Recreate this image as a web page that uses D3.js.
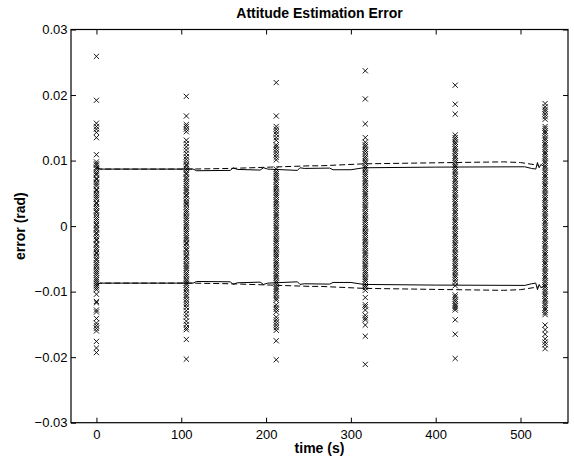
<!DOCTYPE html>
<html>
<head>
<meta charset="utf-8">
<script src="https://cdn.jsdelivr.net/npm/d3@7/dist/d3.min.js"></script>
<style>
  html, body { margin: 0; padding: 0; background: #fff; }
  svg { display: block; }
  text { font-family: "Liberation Sans", Arial, Helvetica, sans-serif; fill: #000; }
</style>
</head>
<body>
<div id="chart"></div>
<script>
// ---------- DATA ----------
const titleText = "Attitude Estimation Error";
const xLabelText = "time (s)";
const yLabelText = "error (rad)";

const xTicks = [0, 100, 200, 300, 400, 500];
const xTickLabels = ["0", "100", "200", "300", "400", "500"];
const yTicks = [0.03, 0.02, 0.01, 0, -0.01, -0.02, -0.03];
const yTickLabels = ["0.03", "0.02", "0.01", "0", "\u22120.01", "\u22120.02", "\u22120.03"];

// measurement times (s) of each column of error samples
const sampleTimes = [0, 106, 212, 317, 423, 529];

// error samples (rad) for each measurement time
const samples0 = [0.0259, 0.0192, 0.0157, 0.0152, 0.0148, 0.0143, 0.0135, 0.0109,
  0.0098, 0.0095, 0.0093, 0.0089, 0.0087, 0.0083, 0.0080, 0.0078, 0.0073, 0.0071, 0.0067, 0.0064,
  0.0061, 0.0056, 0.0054, 0.0050, 0.0047, 0.0044, 0.0041, 0.0036, 0.0034, 0.0030, 0.0027, 0.0023,
  0.0021, 0.0017, 0.0013, 0.0010, 0.0007, 0.0003, 0.0001, -0.0003, -0.0006, -0.0010, -0.0012,
  -0.0016, -0.0020, -0.0022, -0.0027, -0.0029, -0.0033, -0.0036, -0.0040, -0.0042, -0.0046,
  -0.0050, -0.0052, -0.0056, -0.0059, -0.0062, -0.0066, -0.0069, -0.0072, -0.0075, -0.0079,
  -0.0082, -0.0085, -0.0088, -0.0091, -0.0094, -0.0097,
  -0.0104, -0.0115, -0.0117, -0.0128, -0.0131, -0.0141, -0.0148, -0.0152, -0.0156, -0.0160,
  -0.0176, -0.0186, -0.0193];
const samples1 = [0.0198, 0.0168, 0.0155, 0.0152, 0.0148, 0.0144, 0.0131, 0.0126, 0.0121, 0.0116,
  0.0111, 0.0106, 0.0102, 0.0098, 0.0094, 0.0092, 0.0088, 0.0085, 0.0081, 0.0079, 0.0075, 0.0072,
  0.0068, 0.0065, 0.0062, 0.0058, 0.0055, 0.0052, 0.0048, 0.0046, 0.0042, 0.0038, 0.0035, 0.0033,
  0.0029, 0.0025, 0.0022, 0.0019, 0.0015, 0.0012, 0.0009, 0.0005, 0.0002, -0.0001, -0.0005,
  -0.0008, -0.0011, -0.0015, -0.0018, -0.0021, -0.0025, -0.0027, -0.0031, -0.0035, -0.0037,
  -0.0041, -0.0045, -0.0047, -0.0051, -0.0054, -0.0058, -0.0061, -0.0064, -0.0067, -0.0071,
  -0.0074, -0.0077, -0.0081, -0.0084, -0.0087, -0.0090, -0.0094, -0.0097, -0.0101, -0.0105,
  -0.0108, -0.0112, -0.0116, -0.0120, -0.0124, -0.0129, -0.0134, -0.0139, -0.0145, -0.0150,
  -0.0155, -0.0158, -0.0173, -0.0203];
const samples2 = [0.0219, 0.0168, 0.0152, 0.0148, 0.0144, 0.0140, 0.0135, 0.0131, 0.0124, 0.0121,
  0.0117, 0.0113, 0.0109, 0.0105, 0.0101, 0.0087, 0.0083, 0.0080, 0.0077, 0.0074, 0.0070, 0.0067,
  0.0063, 0.0060, 0.0057, 0.0053, 0.0050, 0.0047, 0.0044, 0.0040, 0.0037, 0.0034, 0.0030, 0.0027,
  0.0024, 0.0020, 0.0017, 0.0014, 0.0010, 0.0007, 0.0004, 0.0000, -0.0003, -0.0006, -0.0010,
  -0.0013, -0.0016, -0.0020, -0.0023, -0.0026, -0.0030, -0.0033, -0.0036, -0.0040, -0.0043,
  -0.0046, -0.0049, -0.0053, -0.0056, -0.0059, -0.0063, -0.0066, -0.0069, -0.0073, -0.0076,
  -0.0079, -0.0083, -0.0086, -0.0089, -0.0093, -0.0096, -0.0099, -0.0103, -0.0106, -0.0110,
  -0.0113, -0.0120, -0.0124, -0.0127, -0.0131, -0.0139, -0.0143, -0.0147, -0.0151, -0.0155,
  -0.0159, -0.0175, -0.0204];
const samples3 = [0.0237, 0.0194, 0.0156, 0.0135, 0.0128, 0.0124, 0.0121, 0.0117, 0.0114, 0.0110,
  0.0106, 0.0103, 0.0099, 0.0096, 0.0092, 0.0089, 0.0086, 0.0082, 0.0079, 0.0076, 0.0072, 0.0069,
  0.0066, 0.0062, 0.0059, 0.0056, 0.0052, 0.0049, 0.0046, 0.0042, 0.0039, 0.0036, 0.0032, 0.0029,
  0.0026, 0.0022, 0.0019, 0.0016, 0.0012, 0.0009, 0.0006, 0.0002, -0.0001, -0.0004, -0.0008,
  -0.0011, -0.0014, -0.0018, -0.0021, -0.0024, -0.0028, -0.0031, -0.0034, -0.0038, -0.0041,
  -0.0044, -0.0048, -0.0051, -0.0054, -0.0058, -0.0061, -0.0064, -0.0068, -0.0071, -0.0074,
  -0.0078, -0.0081, -0.0084, -0.0088, -0.0091, -0.0094, -0.0098,
  -0.0109, -0.0120, -0.0123, -0.0128, -0.0136, -0.0140, -0.0143, -0.0151, -0.0168, -0.0211];
const samples4 = [0.0215, 0.0186, 0.0171, 0.0139, 0.0135, 0.0132, 0.0128, 0.0125, 0.0121, 0.0118,
  0.0114, 0.0111, 0.0107, 0.0104, 0.0100, 0.0097, 0.0093, 0.0090, 0.0086, 0.0083, 0.0079, 0.0076,
  0.0072, 0.0069, 0.0065, 0.0062, 0.0058, 0.0055, 0.0051, 0.0048, 0.0044, 0.0041, 0.0037, 0.0034,
  0.0030, 0.0027, 0.0023, 0.0020, 0.0016, 0.0013, 0.0009, 0.0006, 0.0002, -0.0001, -0.0005,
  -0.0008, -0.0012, -0.0015, -0.0019, -0.0022, -0.0026, -0.0029, -0.0033, -0.0036, -0.0040,
  -0.0043, -0.0047, -0.0050, -0.0054, -0.0057, -0.0061, -0.0064, -0.0068, -0.0071, -0.0075,
  -0.0078, -0.0082, -0.0086, -0.0091, -0.0105, -0.0108, -0.0112, -0.0115, -0.0119, -0.0122,
  -0.0125, -0.0128, -0.0143, -0.0165, -0.0202];
const samples5 = [0.0187, 0.0182, 0.0178, 0.0175, 0.0171, 0.0167, 0.0163, 0.0152, 0.0149, 0.0145,
  0.0142, 0.0138, 0.0134, 0.0131, 0.0127, 0.0124, 0.0120, 0.0117, 0.0113, 0.0110, 0.0106, 0.0103,
  0.0099, 0.0096, 0.0092, 0.0089, 0.0085, 0.0082, 0.0078, 0.0075, 0.0071, 0.0068, 0.0064, 0.0061,
  0.0057, 0.0054, 0.0050, 0.0047, 0.0043, 0.0040, 0.0036, 0.0033, 0.0029, 0.0026, 0.0022, 0.0019,
  0.0015, 0.0012, 0.0008, 0.0005, 0.0001, -0.0002, -0.0006, -0.0009, -0.0013, -0.0016, -0.0020,
  -0.0023, -0.0027, -0.0030, -0.0034, -0.0037, -0.0041, -0.0044, -0.0048, -0.0051, -0.0055,
  -0.0058, -0.0062, -0.0065, -0.0069, -0.0072, -0.0076, -0.0079, -0.0083, -0.0086, -0.0090,
  -0.0093, -0.0097, -0.0100, -0.0104, -0.0107, -0.0111, -0.0114, -0.0118, -0.0121, -0.0125,
  -0.0128, -0.0132, -0.0135, -0.0151, -0.0158, -0.0165, -0.0172, -0.0177, -0.0181, -0.0187];
const sampleColumns = [samples0, samples1, samples2, samples3, samples4, samples5];

// estimated 3-sigma bound (solid) : time (s) and value (rad); lower bound is its negative
const boundTime = [0, 4, 114, 118, 158, 161, 166, 193, 197, 202, 237, 240, 245, 275, 279, 300,
  315, 400, 505, 513, 518, 520, 522, 524, 528];
const boundSolid = [0.0091, 0.0087, 0.0087, 0.00845, 0.0085, 0.0089, 0.00865, 0.00855, 0.0089,
  0.0087, 0.0085, 0.0089, 0.0088, 0.00885, 0.0086, 0.0086, 0.0089, 0.0090, 0.00905, 0.0088,
  0.0087, 0.0097, 0.0089, 0.0094, 0.0091];
// theoretical 3-sigma bound (dashed)
const dashTime = [0, 5, 110, 158, 205, 252, 264, 315, 421, 480, 500, 515, 521];
const boundDashed = [0.0089, 0.0087, 0.0087, 0.0088, 0.0090, 0.0092, 0.0092, 0.0095, 0.0097,
  0.0098, 0.0097, 0.0094, 0.0093];

// ---------- LAYOUT ----------
const W = 574, H = 466;
const plot = { left: 71, right: 568, top: 29.5, bottom: 422.7 };

const svg = d3.select("#chart").append("svg")
  .attr("width", W).attr("height", H);

const x = d3.scaleLinear().domain([-30, 556]).range([plot.left, plot.right]);
const y = d3.scaleLinear().domain([-0.03, 0.03]).range([plot.bottom, plot.top]);

const tickLen = 5;

svg.append("clipPath").attr("id", "clip").append("rect")
  .attr("x", plot.left).attr("y", plot.top)
  .attr("width", plot.right - plot.left).attr("height", plot.bottom - plot.top);

const g = svg.append("g").attr("clip-path", "url(#clip)");

// sample markers (x)
const ms = 2.6;
sampleColumns.forEach((col, i) => {
  const t = sampleTimes[i];
  g.append("g").selectAll("path").data(col).enter().append("path")
    .attr("d", d => {
      const cx = x(t), cy = y(d);
      return `M${cx - ms},${cy - ms}L${cx + ms},${cy + ms}M${cx - ms},${cy + ms}L${cx + ms},${cy - ms}`;
    })
    .attr("stroke", "#000").attr("stroke-width", 0.9).attr("fill", "none");
});

// bounds
const solidPts = boundTime.map((t, i) => [t, boundSolid[i]]);
const dashPts = dashTime.map((t, i) => [t, boundDashed[i]]);
const line = d3.line().x(d => x(d[0])).y(d => y(d[1]));

[1, -1].forEach(sign => {
  g.append("path").datum(solidPts.map(p => [p[0], sign * p[1]]))
    .attr("d", line).attr("fill", "none").attr("stroke", "#000").attr("stroke-width", 1);
  g.append("path").datum(dashPts.map(p => [p[0], sign * p[1]]))
    .attr("d", line).attr("fill", "none").attr("stroke", "#000").attr("stroke-width", 1)
    .attr("stroke-dasharray", "6,3");
});

// axes box
svg.append("rect")
  .attr("x", plot.left).attr("y", plot.top)
  .attr("width", plot.right - plot.left).attr("height", plot.bottom - plot.top)
  .attr("fill", "none").attr("stroke", "#000").attr("stroke-width", 1.2);

// axes (inward ticks on all four sides)
const xAxisB = d3.axisBottom(x).tickValues(xTicks).tickSize(-tickLen).tickPadding(7.5)
  .tickFormat((d, i) => xTickLabels[i]);
const xAxisT = d3.axisTop(x).tickValues(xTicks).tickSize(-tickLen).tickFormat("");
const yAxisL = d3.axisLeft(y).tickValues(yTicks).tickSize(-tickLen).tickPadding(3.5)
  .tickFormat((d, i) => yTickLabels[i]);
const yAxisR = d3.axisRight(y).tickValues(yTicks).tickSize(-tickLen).tickFormat("");

function styleAxis(sel) {
  sel.select(".domain").remove();
  sel.selectAll(".tick line").attr("stroke", "#000").attr("stroke-width", 1);
  sel.selectAll(".tick text").attr("font-size", 13)
    .attr("font-family", '"Liberation Sans", Arial, sans-serif').attr("fill", "#000");
}
svg.append("g").attr("transform", `translate(0,${plot.bottom})`).call(xAxisB).call(styleAxis);
svg.append("g").attr("transform", `translate(0,${plot.top})`).call(xAxisT).call(styleAxis);
svg.append("g").attr("transform", `translate(${plot.left},0)`).call(yAxisL).call(styleAxis);
svg.append("g").attr("transform", `translate(${plot.right},0)`).call(yAxisR).call(styleAxis);

// title and axis labels
svg.append("text").attr("x", (plot.left + plot.right) / 2).attr("y", 18)
  .attr("text-anchor", "middle").attr("font-size", 14).attr("font-weight", "bold")
  .text(titleText);
svg.append("text").attr("x", (plot.left + plot.right) / 2).attr("y", 453)
  .attr("text-anchor", "middle").attr("font-size", 14).attr("font-weight", "bold")
  .text(xLabelText);
svg.append("text")
  .attr("transform", `translate(25,${(plot.top + plot.bottom) / 2}) rotate(-90)`)
  .attr("text-anchor", "middle").attr("font-size", 14).attr("font-weight", "bold")
  .text(yLabelText);
</script>
</body>
</html>
